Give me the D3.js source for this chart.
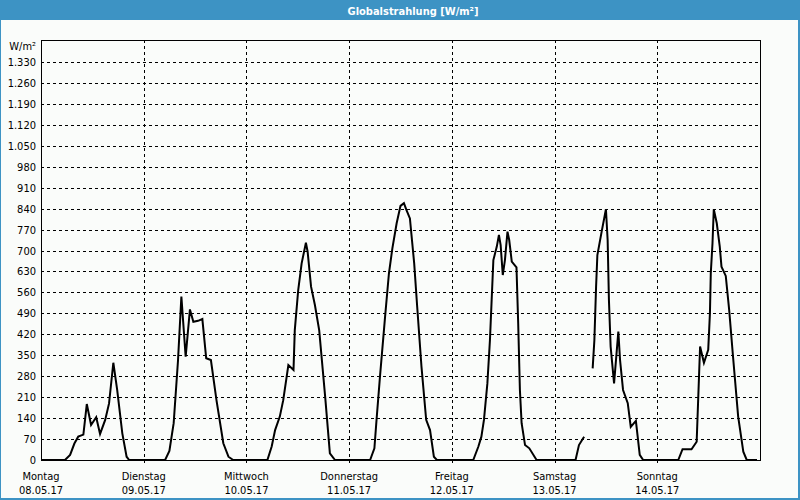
<!DOCTYPE html>
<html><head><meta charset="utf-8">
<script src="https://cdn.jsdelivr.net/npm/d3@7"></script>
<style>
body{margin:0;background:#fff;}
svg{display:block;}
text{font-family:"DejaVu Sans Condensed","Liberation Sans",sans-serif;}
</style>
</head><body>
<svg id="chart" width="800" height="500"></svg>
<script>
// ---- data ----
const title = "Globalstrahlung [W/m²]";
const unitLabel = "W/m²";
const dayNames = ["Montag","Dienstag","Mittwoch","Donnerstag","Freitag","Samstag","Sonntag"];
const dayDates = ["08.05.17","09.05.17","10.05.17","11.05.17","12.05.17","13.05.17","14.05.17"];
const dayStartHours = [0,24,48,72,96,120,144];
const yTickValues = [0,70,140,210,280,350,420,490,560,630,700,770,840,910,980,1050,1120,1190,1260,1330];
const yTickLabels = ["0","70","140","210","280","350","420","490","560","630","700","770","840","910","980","1.050","1.120","1.190","1.260","1.330"];
// hours since 08.05.17 00:00
const hours = [
 0,5.6,6.8,7.8,8.7,9.9,10.7,11.7,12.9,13.8,15.0,15.9,16.9,17.8,19.0,20.0,20.6,
 29.0,30.0,31.0,32.0,32.8,33.8,34.8,35.6,36.7,37.7,38.6,39.7,41.0,42.6,43.8,44.9,
 52.9,53.9,54.7,55.8,56.6,57.8,59.0,59.3,60.1,60.9,61.9,62.3,63.1,64.0,65.0,66.4,67.5,68.7,
 76.9,77.9,78.4,79.2,80.4,81.3,82.1,83.1,84.0,84.8,85.4,86.2,87.2,87.9,88.9,90.0,90.9,91.8,92.5,
 101.0,102.2,102.9,103.5,104.3,104.9,105.3,105.7,106.5,107.0,107.4,107.9,108.4,109.0,109.4,110.0,111.1,111.5,111.9,112.3,113.1,114.1,115.8,
 124.9,125.7,126.9,128.0,128.9,129.3,129.7,130.0,131.0,132.0,132.4,132.7,133.1,133.9,134.9,135.3,136.0,137.1,137.8,139.0,139.9,140.7,
 148.9,149.9,152.0,153.2,154.0,154.9,155.9,156.3,156.5,156.9,157.2,157.9,158.6,159.0,160.0,160.8,161.7,162.9,164.1,164.9,167.3
];
const values = [
 0,0,17,55,78,85,187,117,143,87,134,189,325,234,89,11,0,
 0,30,123,330,546,345,503,462,465,471,340,334,200,56,11,0,
 0,45,100,145,200,317,301,434,568,657,726,696,579,518,434,211,22,0,
 0,39,134,278,479,624,707,791,849,858,835,807,657,512,312,134,100,11,0,
 0,45,78,134,256,401,535,668,713,752,718,618,668,763,735,663,644,457,234,123,50,39,0,
 0,50,78,null,306,400,579,685,763,838,735,535,379,256,429,334,234,190,111,131,17,0,
 0,36,36,61,379,325,368,490,624,724,838,791,713,646,615,501,345,145,28,0,0
];

// ---- layout ----
const W = 800, H = 500;
const plot = {left:41, right:760, top:40, bottom:460};
const blue = "#3d93c4";

const svg = d3.select("#chart");
svg.append("rect").attr("x",0).attr("y",0).attr("width",W).attr("height",H).attr("fill",blue);
svg.append("rect").attr("x",1).attr("y",20).attr("width",W-3).attr("height",H-22).attr("fill","#fafcfa");
svg.append("text").attr("x",413).attr("y",15).attr("text-anchor","middle")
  .attr("fill","#fff").attr("font-weight","bold").attr("font-size","11px").text(title);

const x = d3.scaleLinear().domain([0,168]).range([plot.left, plot.right]);
const y = d3.scaleLinear().domain([0,1400]).range([plot.bottom, plot.top+1]);

const g = svg.append("g");
// horizontal grid
g.selectAll("line.hg").data(yTickValues.filter(v=>v>0)).join("line")
  .attr("x1",plot.left).attr("x2",plot.right)
  .attr("y1",d=>Math.round(y(d))+0.5).attr("y2",d=>Math.round(y(d))+0.5)
  .attr("stroke","#000").attr("stroke-width",1).attr("stroke-dasharray","3,3");
// vertical grid at day boundaries
g.selectAll("line.vg").data(dayStartHours.slice(1)).join("line")
  .attr("x1",d=>Math.round(x(d))+0.5).attr("x2",d=>Math.round(x(d))+0.5)
  .attr("y1",plot.top).attr("y2",plot.bottom+4)
  .attr("stroke","#000").attr("stroke-width",1).attr("stroke-dasharray","3,3");
// frame
g.append("rect").attr("x",plot.left+0.5).attr("y",plot.top+0.5)
  .attr("width",plot.right-plot.left).attr("height",plot.bottom-plot.top)
  .attr("fill","none").attr("stroke","#000").attr("stroke-width",1);

// y labels
g.selectAll("text.yl").data(yTickValues).join("text")
  .attr("x",36).attr("y",d=>y(d)+4).attr("text-anchor","end")
  .attr("font-size","11px").attr("fill","#000")
  .text((d,i)=>yTickLabels[i]);
g.append("text").attr("x",36).attr("y",50).attr("text-anchor","end")
  .attr("font-size","11px").attr("fill","#000").text(unitLabel);

// x labels
const xl = g.selectAll("g.xl").data(dayStartHours).join("g");
xl.append("text").attr("x",d=>x(d)).attr("y",480).attr("text-anchor","middle")
  .attr("font-size","11px").attr("fill","#000").text((d,i)=>dayNames[i]);
xl.append("text").attr("x",d=>x(d)).attr("y",494).attr("text-anchor","middle")
  .attr("font-size","11px").attr("fill","#000").text((d,i)=>dayDates[i]);

// series
const data = hours.map((h,i)=>({h, v:values[i]}));
const line = d3.line().defined(d=>d.v!==null).x(d=>x(d.h)).y(d=>y(d.v));
g.append("path").datum(data).attr("d",line)
  .attr("fill","none").attr("stroke","#000").attr("stroke-width",2).attr("stroke-linejoin","miter");
</script>
</body></html>
